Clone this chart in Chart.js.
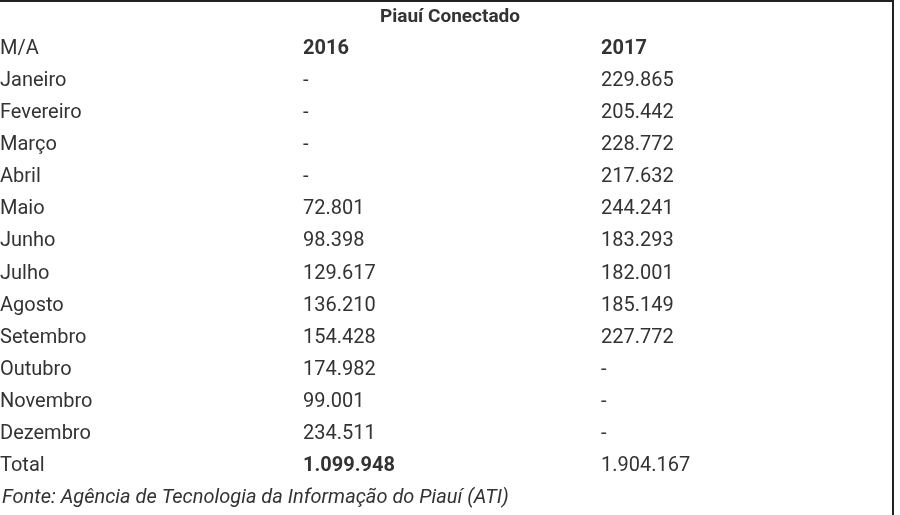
<!DOCTYPE html>
<html><head><meta charset="utf-8">
<script src="https://cdn.jsdelivr.net/npm/chart.js@4"></script>
<style>html,body{margin:0;padding:0;background:#fff}#c{display:block}</style>
</head><body>
<div style="width:900px;height:515px"><canvas id="c" width="900" height="515"></canvas></div>
<script>
const title = "Piauí Conectado";
const headers = ["M/A", "2016", "2017"];
const months = ["Janeiro","Fevereiro","Março","Abril","Maio","Junho","Julho","Agosto","Setembro","Outubro","Novembro","Dezembro","Total"];
const values2016 = [null,null,null,null,72801,98398,129617,136210,154428,174982,99001,234511,1099948];
const values2017 = [229865,205442,228772,217632,244241,183293,182001,185149,227772,null,null,null,1904167];
const source = "Fonte: Agência de Tecnologia da Informação do Piauí (ATI)";

const colX = [0, 303, 601];
const fmt = v => v === null ? "-" : v.toLocaleString("de-DE");
const FONT = "Roboto, 'Liberation Sans', sans-serif";
const ink = "#333";

function cells(col, vals, hdr) {
  const d = [{x: colX[col], y: 0, t: hdr, b: col > 0}];
  vals.forEach((v, i) => d.push({x: colX[col], y: i + 1, t: typeof v === "string" ? v : fmt(v), b: col === 1 && i === 12}));
  return d;
}

const tablePlugin = {
  id: "tableText",
  afterDatasetsDraw(chart) {
    const ctx = chart.ctx, xs = chart.scales.x, ys = chart.scales.y;
    ctx.save();
    ctx.fillStyle = ink;
    ctx.textBaseline = "middle";
    chart.data.datasets.forEach(ds => {
      ds.data.forEach(p => {
        ctx.font = (p.b ? "bold " : "") + "20px " + FONT;
        ctx.textAlign = "left";
        ctx.fillText(p.t, xs.getPixelForValue(p.x), ys.getPixelForValue(p.y));
      });
    });
    ctx.font = "bold 19px " + FONT;
    ctx.textAlign = "center";
    ctx.fillText(title, 450, ys.getPixelForValue(-1));
    ctx.font = "italic 20px " + FONT;
    ctx.textAlign = "left";
    ctx.fillText(source, 2, ys.getPixelForValue(14));
    ctx.strokeStyle = "#222";
    ctx.lineWidth = 2;
    ctx.beginPath();
    ctx.moveTo(0, 1); ctx.lineTo(893, 1); ctx.lineTo(893, 515);
    ctx.stroke();
    ctx.restore();
  }
};

new Chart(document.getElementById("c"), {
  type: "scatter",
  data: {
    datasets: [
      {data: cells(0, months, headers[0]), pointRadius: 0},
      {data: cells(1, values2016, headers[1]), pointRadius: 0},
      {data: cells(2, values2017, headers[2]), pointRadius: 0}
    ]
  },
  options: {
    responsive: false, animation: false,
    layout: {padding: 0},
    plugins: {legend: {display: false}, tooltip: {enabled: false}, title: {display: false}},
    scales: {
      x: {type: "linear", min: 0, max: 900, display: false},
      y: {type: "linear", min: -1.53, max: 14.53, reverse: true, display: false}
    }
  },
  plugins: [tablePlugin]
});
</script>
</body></html>
